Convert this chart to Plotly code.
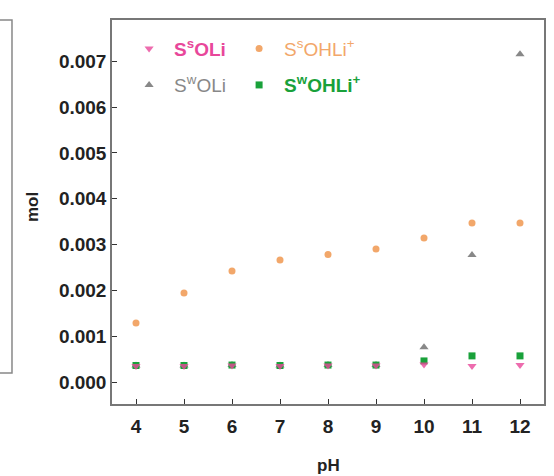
import plotly.graph_objects as go

ph = [4, 5, 6, 7, 8, 9, 10, 11, 12]
s_s_oli = [0.00035, 0.00035, 0.00036, 0.00035, 0.00036, 0.00036, 0.00038, 0.00035, 0.00037]
s_s_ohli = [0.00129, 0.00194, 0.00242, 0.00266, 0.00278, 0.00290, 0.00314, 0.00347, 0.00347]
s_w_oli = [0.00036, 0.00036, 0.00037, 0.00036, 0.00037, 0.00037, 0.00076, 0.00277, 0.00715]
s_w_ohli = [0.00036, 0.00036, 0.00037, 0.00036, 0.00037, 0.00037, 0.00046, 0.00057, 0.00057]

yticks = [0.000, 0.001, 0.002, 0.003, 0.004, 0.005, 0.006, 0.007]
ytext = ["0.000", "0.001", "0.002", "0.003", "0.004", "0.005", "0.006", "0.007"]

pink = "#e8479a"
orange = "#f2a76a"
gray = "#888888"
green = "#19a13a"

FONT = "Liberation Sans, Arial, sans-serif"

fig = go.Figure()
fig.add_trace(go.Scatter(x=ph, y=s_s_ohli, mode="markers", name="<span style='color:%s'>S<sup>s</sup>OHLi<sup>+</sup></span>" % orange,
                         marker=dict(symbol="circle", size=7, color=orange), legend="legend", legendrank=2))
fig.add_trace(go.Scatter(x=ph, y=s_w_oli, mode="markers", name="<span style='color:%s'>S<sup>w</sup>OLi</span>" % gray,
                         marker=dict(symbol="triangle-up", size=8, color=gray), legend="legend2", legendrank=1))
fig.add_trace(go.Scatter(x=ph, y=s_w_ohli, mode="markers", name="<span style='color:%s'><b>S<sup>w</sup>OHLi<sup>+</sup></b></span>" % green,
                         marker=dict(symbol="square", size=7, color=green), legend="legend2", legendrank=2))
fig.add_trace(go.Scatter(x=ph, y=s_s_oli, mode="markers", name="<span style='color:%s'><b>S<sup>s</sup>OLi</b></span>" % pink,
                         marker=dict(symbol="triangle-down", size=8, color="rgba(232,71,154,0.8)"),
                         legend="legend", legendrank=1))
# invisible spacer entries so the last legend label is not clipped
fig.add_trace(go.Scatter(x=[None], y=[None], mode="markers", name=" ", hoverinfo="skip",
                         marker=dict(size=1, color="rgba(0,0,0,0)"), legend="legend", legendrank=3))
fig.add_trace(go.Scatter(x=[None], y=[None], mode="markers", name="  ", hoverinfo="skip",
                         marker=dict(size=1, color="rgba(0,0,0,0)"), legend="legend2", legendrank=3))

fig.update_layout(
    width=554, height=476,
    margin=dict(l=112, r=10, t=20, b=72),
    plot_bgcolor="white", paper_bgcolor="white",
    font=dict(family=FONT, size=18, color="#222"),
    legend=dict(orientation="h", x=0.028, y=0.975, xanchor="left", yanchor="top", traceorder="normal",
                bgcolor="rgba(0,0,0,0)", font=dict(size=19), entrywidth=55, itemwidth=40),
    legend2=dict(orientation="h", x=0.028, y=0.88, xanchor="left", yanchor="top", traceorder="normal",
                 bgcolor="rgba(0,0,0,0)", font=dict(size=19), entrywidth=55, itemwidth=40),
    xaxis=dict(range=[3.5, 12.5], tickvals=ph, ticktext=[str(v) for v in ph],
               ticks="inside", ticklen=5, tickcolor="#333", showgrid=False, zeroline=False,
               showline=True, linecolor="#777", linewidth=1.5, mirror=True,
               ticklabelstandoff=4, automargin=False,
               tickfont=dict(size=19, color="#222", family=FONT, weight="bold")),
    yaxis=dict(range=[-0.00048, 0.0079], tickvals=yticks, ticktext=ytext,
               ticks="inside", ticklen=5, tickcolor="#333", showgrid=False, zeroline=False,
               showline=True, linecolor="#777", linewidth=1.5, mirror=True, automargin=False,
               tickfont=dict(size=19, color="#222", family=FONT, weight="bold")),
)

# axis titles
fig.add_annotation(text="<b>pH</b>", xref="paper", yref="paper", x=0.5, y=-0.159,
                   xanchor="center", yanchor="middle", showarrow=False,
                   font=dict(size=17, color="#222", family=FONT))
fig.add_annotation(text="<b>mol</b>", xref="paper", yref="paper", x=-0.185, y=0.513,
                   xanchor="center", yanchor="middle", showarrow=False, textangle=-90,
                   font=dict(size=17, color="#222", family=FONT))

# partial neighbouring panel at the far left edge
fig.add_shape(type="rect", xref="paper", yref="paper", x0=-0.32, x1=-0.2315, y0=0.0807, y1=1.0,
              line=dict(color="#888", width=1.5), fillcolor="rgba(0,0,0,0)", layer="above")

fig.write_html("out.html")
